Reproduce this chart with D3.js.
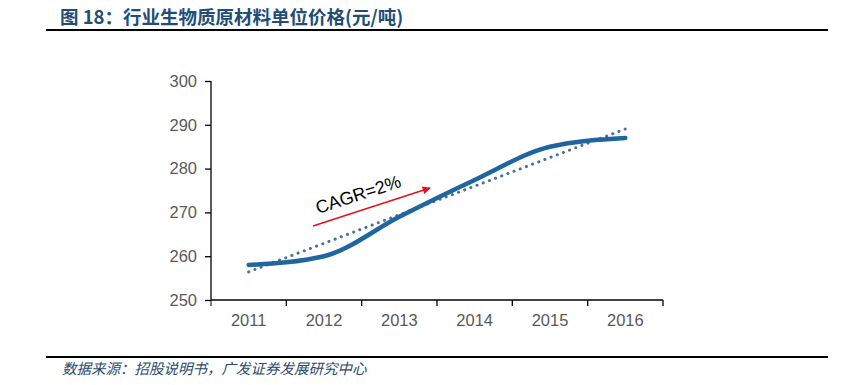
<!DOCTYPE html>
<html><head><meta charset="utf-8">
<script src="https://cdn.jsdelivr.net/npm/d3@7"></script>
<style>body{margin:0;background:#fff}svg{display:block}</style>
</head><body>
<svg id="c" width="849" height="385"></svg>
<script>
const categories = ["2011","2012","2013","2014","2015","2016"];
const prices = [258, 260, 269, 277.4, 285, 287];
const yTicks = [250, 260, 270, 280, 290, 300];
const title = "图 18：行业生物质原材料单位价格(元/吨)";
const source = "数据来源：招股说明书，广发证券发展研究中心";
const annotation = "CAGR=2%";

const svg = d3.select("#c");
const x = d3.scaleBand().domain(categories).range([211, 663]);
const y = d3.scaleLinear().domain([250, 300]).range([300, 81]);
const font = "Arial, 'Liberation Sans', sans-serif";

// title
svg.append("text").attr("x", 60).attr("y", 24).text(title)
  .attr("font-family", "'Noto Sans CJK SC', sans-serif").attr("font-weight", "bold")
  .attr("font-size", 18.5).attr("fill", "#1f4e79");
svg.append("line").attr("x1", 46).attr("x2", 828).attr("y1", 30).attr("y2", 30)
  .attr("stroke", "#000").attr("stroke-width", 2);
svg.append("line").attr("x1", 46).attr("x2", 828).attr("y1", 357).attr("y2", 357)
  .attr("stroke", "#000").attr("stroke-width", 2);
svg.append("text").attr("x", 62).attr("y", 374).text(source)
  .attr("font-family", "'Noto Sans CJK SC', sans-serif").attr("font-style", "italic")
  .attr("font-size", 14.5).attr("fill", "#2a4a70");

// axes
const yAxis = svg.append("g").attr("transform", "translate(211,0)")
  .call(d3.axisLeft(y).tickValues(yTicks).tickSize(6).tickPadding(8));
const xAxis = svg.append("g").attr("transform", "translate(0,300)")
  .call(d3.axisBottom(x).tickSize(0).tickPadding(14));
xAxis.selectAll(".tick").append("line")
  .attr("x1", x.bandwidth()/2).attr("x2", x.bandwidth()/2).attr("y2", 6).attr("stroke", "#000");
xAxis.append("line").attr("x1", 211).attr("x2", 211).attr("y2", 6).attr("stroke", "#000");
[yAxis, xAxis].forEach(g => {
  g.select(".domain").attr("stroke", "#000").attr("stroke-width", 1.3);
  g.selectAll(".tick line").attr("stroke", "#000").attr("stroke-width", 1.3);
  g.selectAll("text").attr("font-family", font).attr("font-size", 16.5).attr("fill", "#595959");
});
yAxis.select(".domain").attr("d", "M0,300V81");
xAxis.select(".domain").attr("d", "M211,0H663");

const cx = d => x(d) + x.bandwidth()/2;

// linear trend
const n = prices.length;
const mx = (n - 1) / 2, my = d3.mean(prices);
const slope = d3.sum(prices, (v, i) => (i - mx) * (v - my)) / d3.sum(prices, (v, i) => (i - mx) ** 2);
const trend = categories.map((c, i) => [c, my + slope * (i - mx)]);

svg.append("path")
  .attr("d", d3.line().x(d => cx(d[0])).y(d => y(d[1]))(trend))
  .attr("fill", "none").attr("stroke", "#4a6f9c").attr("stroke-width", 3)
  .attr("stroke-dasharray", "0.1,6.5").attr("stroke-linecap", "round");

// main line
svg.append("path")
  .attr("d", d3.line().x((d, i) => cx(categories[i])).y(d => y(d)).curve(d3.curveMonotoneX)(prices))
  .attr("fill", "none").attr("stroke", "#1f66a0").attr("stroke-width", 4.5)
  .attr("stroke-linecap", "round");

// annotation arrow
const defs = svg.append("defs");
defs.append("marker").attr("id", "ah").attr("viewBox", "0 0 10 10").attr("refX", 9).attr("refY", 5)
  .attr("markerWidth", 9).attr("markerHeight", 8).attr("markerUnits", "userSpaceOnUse")
  .attr("orient", "auto")
  .append("path").attr("d", "M0,0L10,5L0,10Z").attr("fill", "#e8101a");
svg.append("line").attr("x1", 313).attr("y1", 226).attr("x2", 430).attr("y2", 188)
  .attr("stroke", "#e8101a").attr("stroke-width", 1.5)
  .attr("marker-end", "url(#ah)");
svg.append("text").text(annotation)
  .attr("transform", "translate(318,214) rotate(-18)")
  .attr("font-family", font).attr("font-size", 18).attr("fill", "#000");
</script>
</body></html>
